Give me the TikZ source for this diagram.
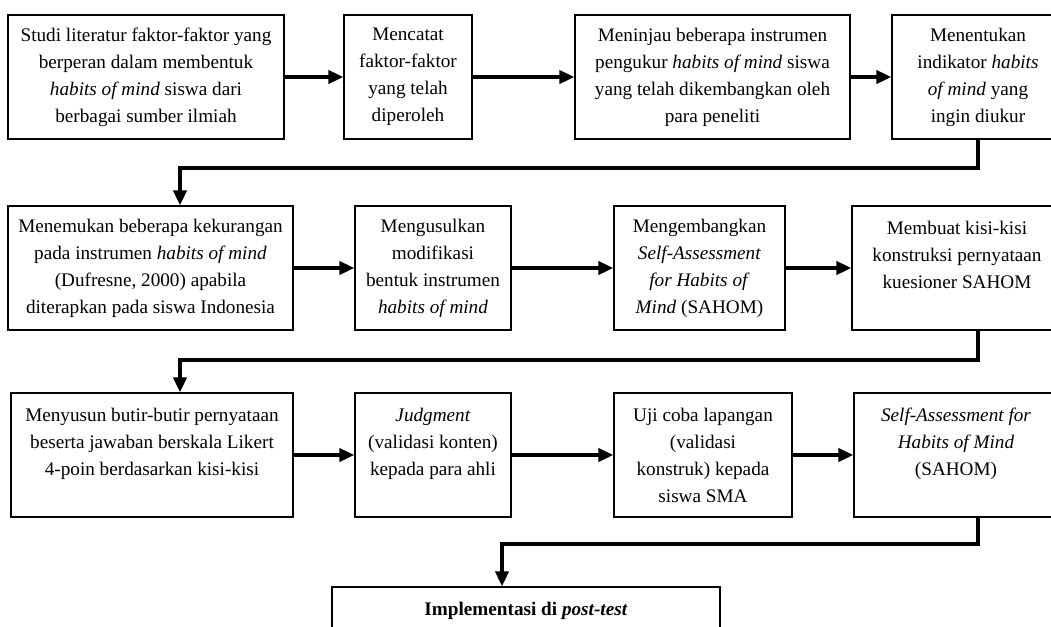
\documentclass[tikz,border=0pt]{standalone}
\usepackage{fontspec}
\setmainfont{Liberation Serif}
\usepackage{tikz}
\usetikzlibrary{arrows.meta}

\begin{document}
\begin{tikzpicture}[x=0.5pt, y=-0.5pt,
		stepbox/.style={draw, line width=0.6pt, align=center, inner sep=0pt,
			minimum height=62pt, font=\fontsize{9.6pt}{13.5pt}\selectfont},
		flow/.style={->, line width=2pt},
		>={Triangle[length=7.5pt, width=6.5pt]}]
		\useasboundingbox (0,0) rectangle (1051,627);
		\begin{scope}
			\clip (0,0) rectangle (1051,627);

			% first row
			\node[stepbox, minimum width=138pt] (studi) at (146,77) {Studi literatur faktor-faktor yang\\berperan dalam membentuk\\\textit{habits of mind} siswa dari\\berbagai sumber ilmiah};
			\node[stepbox, minimum width=64pt] (catat) at (408,77) {Mencatat\\faktor-faktor\\yang telah\\diperoleh};
			\node[stepbox, minimum width=137.5pt] (tinjau) at (712.5,77) {Meninjau beberapa instrumen\\pengukur \textit{habits of mind} siswa\\yang telah dikembangkan oleh\\para peneliti};
			\node[stepbox, minimum width=86pt] (indikator) at (978,77) {Menentukan\\indikator \textit{habits}\\\textit{of mind} yang\\ingin diukur};

			% second row
			\node[stepbox, minimum width=142.5pt] (kurang) at (150.5,268) {Menemukan beberapa kekurangan\\pada instrumen \textit{habits of mind}\\(Dufresne, 2000) apabila\\diterapkan pada siswa Indonesia};
			\node[stepbox, minimum width=78pt] (usul) at (433,268) {Mengusulkan\\modifikasi\\bentuk instrumen\\\textit{habits of mind}};
			\node[stepbox, minimum width=85.5pt] (kembang) at (699.5,268) {Mengembangkan\\\textit{Self-Assessment}\\\textit{for Habits of}\\\textit{Mind} (SAHOM)};
			\node[stepbox, minimum width=105pt] (kisi) at (957,268) {Membuat kisi-kisi\\konstruksi pernyataan\\kuesioner SAHOM\\ \mbox{}};

			% third row
			\node[stepbox, minimum width=141pt] (butir) at (152,455) {Menyusun butir-butir pernyataan\\beserta jawaban berskala Likert\\4-poin berdasarkan kisi-kisi\\ \mbox{}};
			\node[stepbox, minimum width=78pt] (judgment) at (433,455) {\textit{Judgment}\\(validasi konten)\\kepada para ahli\\ \mbox{}};
			\node[stepbox, minimum width=89pt] (ujicoba) at (703,455) {Uji coba lapangan\\(validasi\\konstruk) kepada\\siswa SMA};
			\node[stepbox, minimum width=102pt] (sahom) at (956,455) {\textit{Self-Assessment for}\\\textit{Habits of Mind}\\(SAHOM)\\ \mbox{}};

			\node[stepbox, minimum width=194pt] (implementasi) at (526,649) {\textbf{Implementasi di \textit{post-test}}\\ \mbox{}\\ \mbox{}\\ \mbox{}};

			\coordinate (turn1) at (180,168);
			\coordinate (turn2) at (180,360);
			\coordinate (turn3) at (502,544);

			\draw[flow] (studi) -- (catat);
			\draw[flow] (catat) -- (tinjau);
			\draw[flow] (tinjau) -- (indikator);
			\draw[flow] (indikator.south) |- (turn1) -- (turn1 |- kurang.north);

			\draw[flow] (kurang) -- (usul);
			\draw[flow] (usul) -- (kembang);
			\draw[flow] (kembang) -- (kisi);
			\draw[flow] (kisi.south -| indikator.south) |- (turn2) -- (turn2 |- butir.north);

			\draw[flow] (butir) -- (judgment);
			\draw[flow] (judgment) -- (ujicoba);
			\draw[flow] (ujicoba) -- (sahom);
			\draw[flow] (sahom.south -| indikator.south) |- (turn3) -- (implementasi.north -| turn3);
		\end{scope}
\end{tikzpicture}
\end{document}
